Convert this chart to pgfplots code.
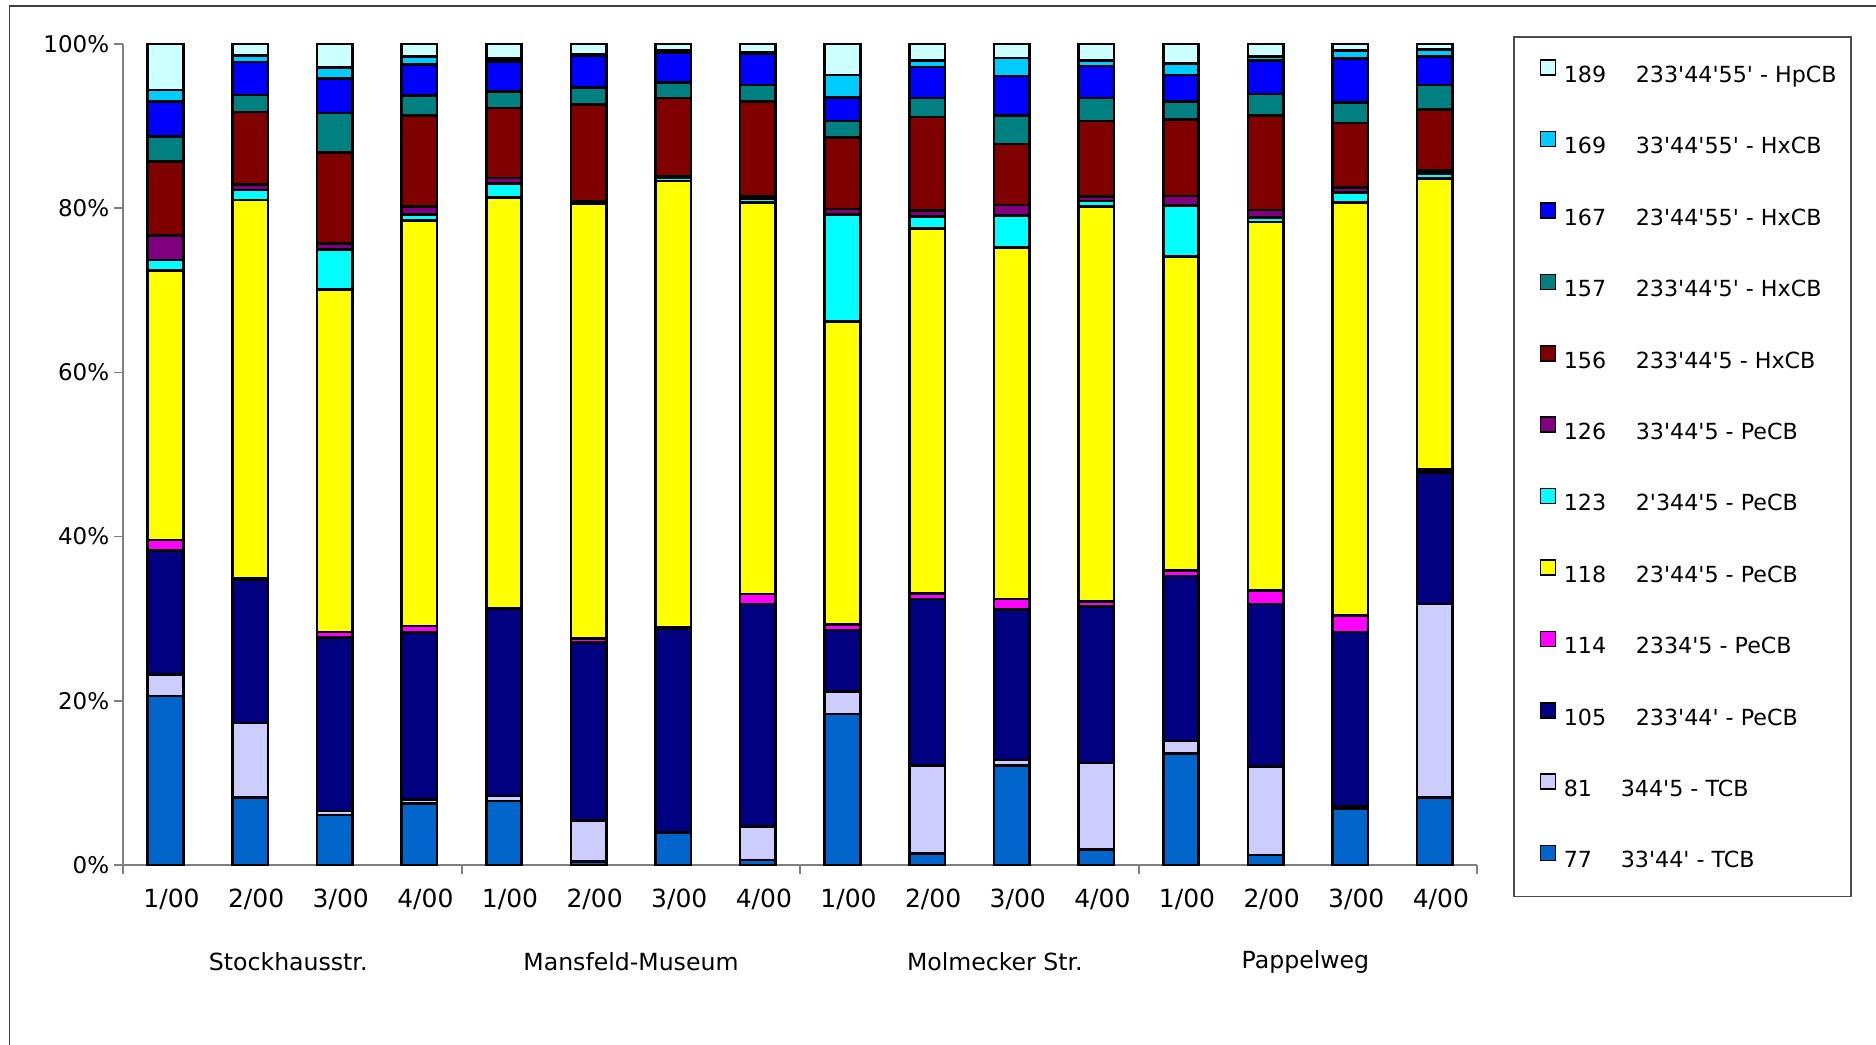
\documentclass[border=0pt]{standalone}
\usepackage{fontspec}
\setmainfont{DejaVu Sans}[Ligatures=TeXOff]
\usepackage{pgfplots}
\usepackage{pgfplotstable}
\pgfplotsset{compat=1.18}

\definecolor{c77}{HTML}{0066CC}
\definecolor{c81}{HTML}{CCCCFF}
\definecolor{c105}{HTML}{000080}
\definecolor{c114}{HTML}{FF00FF}
\definecolor{c118}{HTML}{FFFF00}
\definecolor{c123}{HTML}{00FFFF}
\definecolor{c126}{HTML}{800080}
\definecolor{c156}{HTML}{800000}
\definecolor{c157}{HTML}{008080}
\definecolor{c167}{HTML}{0000FF}
\definecolor{c169}{HTML}{00CCFF}
\definecolor{c189}{HTML}{CCFFFF}

% share of each congener in %, bars 0..15
\pgfplotstableread{
x  s77  s81  s105 s114 s118 s123 s126 s156 s157 s167 s169 s189
0  20.6 2.6  15.1 1.3  32.8 1.3  3.0  9.0  3.0  4.3  1.4  5.6
1  8.2  9.1  17.5 0.1  46.1 1.2  0.7  8.8  2.1  4.0  0.8  1.4
2  6.1  0.5  21.1 0.7  41.7 4.9  0.7  11.1 4.8  4.2  1.3  2.9
3  7.5  0.5  20.3 0.8  49.4 0.7  1.0  11.1 2.4  3.8  1.0  1.5
4  7.8  0.6  22.8 0.1  50.0 1.7  0.7  8.5  2.0  3.7  0.3  1.8
5  0.4  5.0  21.7 0.5  53.0 0.1  0.1  11.8 2.1  3.9  0.2  1.2
6  3.9  0.1  24.8 0.1  54.4 0.4  0.2  9.5  1.9  3.6  0.3  0.8
7  0.6  4.1  27.1 1.2  47.7 0.5  0.2  11.6 2.0  3.8  0.2  1.0
8  18.4 2.7  7.5  0.7  36.9 13.0 0.7  8.7  2.0  2.9  2.7  3.8
9  1.4  10.7 20.3 0.7  44.4 1.5  0.7  11.4 2.3  3.8  0.8  2.0
10 12.1 0.7  18.3 1.3  42.8 3.9  1.3  7.4  3.5  4.8  2.2  1.7
11 1.9  10.5 19.1 0.6  48.1 0.7  0.5  9.2  2.8  3.9  0.7  2.0
12 13.6 1.5  20.1 0.7  38.2 6.2  1.2  9.3  2.2  3.2  1.4  2.4
13 1.2  10.8 19.8 1.6  44.9 0.6  0.9  11.5 2.6  4.1  0.5  1.5
14 6.8  0.3  21.3 2.0  50.3 1.2  0.6  7.9  2.5  5.3  1.0  0.8
15 8.2  23.6 16.0 0.4  35.4 0.6  0.4  7.4  3.0  3.5  0.8  0.7
}\pcbdata

\newcommand{\legl}[2]{\makebox[130.5bp][l]{\makebox[36bp][l]{#1}#2}}
\newcommand{\legs}[2]{\makebox[130.5bp][l]{\makebox[28.5bp][l]{#1}#2}}

\begin{document}
\begin{tikzpicture}
\useasboundingbox (0,0) rectangle (938bp,522.5bp);
\draw[line width=0.8bp, black!75] (4.8bp,0) -- (4.8bp,519.5bp) -- (938bp,519.5bp);
\begin{axis}[
  at={(61.6bp,90bp)}, anchor=south west,
  scale only axis, width=677bp, height=410.5bp,
  ybar stacked, bar width=0.42,
  xmin=-0.5, xmax=15.5, ymin=0, ymax=100,
  axis x line=bottom, axis y line=left,
  axis line style={-, gray, line width=0.8bp},
  tick align=outside, major tick length=4.5bp,
  tick style={gray, line width=0.8bp},
  ytick={0,20,40,60,80,100},
  yticklabels={0\%,20\%,40\%,60\%,80\%,100\%},
  yticklabel style={inner xsep=2.3bp, font=\fontsize{11.5bp}{13bp}\selectfont},
  xtick={-0.5,3.5,7.5,11.5,15.5}, xticklabels={},
  extra x ticks={0,1,...,15},
  extra x tick labels={1/00,2/00,3/00,4/00,1/00,2/00,3/00,4/00,1/00,2/00,3/00,4/00,1/00,2/00,3/00,4/00},
  extra x tick style={major tick length=0pt, tick label style={yshift=-8.4bp, xshift=3bp, font=\fontsize{12.5bp}{14bp}\selectfont}},
  clip=false,
  legend image code/.code={\draw[#1, line width=0.8bp] (0bp,0.6bp) rectangle (7.5bp,8.1bp); \path (11bp,0bp);},
  legend cell align=left,
  reverse legend,
  legend style={at={(1.0264,1.00974)}, anchor=north west, draw=black!70, line width=0.8bp,
    inner xsep=13bp, inner ysep=11.3bp, row sep=21.2bp, column sep=0pt,
    nodes={inner sep=0pt, text height=9bp, text depth=3bp},
    font=\fontsize{11.1bp}{13bp}\selectfont},
]
\addplot[fill=c77, draw=black, line width=1.3bp] table[x=x,y=s77]{\pcbdata};
\addlegendentry{\legs{77}{33'44' - TCB}}
\addplot[fill=c81, draw=black, line width=1.3bp] table[x=x,y=s81]{\pcbdata};
\addlegendentry{\legs{81}{344'5 - TCB}}
\addplot[fill=c105, draw=black, line width=1.3bp] table[x=x,y=s105]{\pcbdata};
\addlegendentry{\legl{105}{233'44' - PeCB}}
\addplot[fill=c114, draw=black, line width=1.3bp] table[x=x,y=s114]{\pcbdata};
\addlegendentry{\legl{114}{2334'5 - PeCB}}
\addplot[fill=c118, draw=black, line width=1.3bp] table[x=x,y=s118]{\pcbdata};
\addlegendentry{\legl{118}{23'44'5 - PeCB}}
\addplot[fill=c123, draw=black, line width=1.3bp] table[x=x,y=s123]{\pcbdata};
\addlegendentry{\legl{123}{2'344'5 - PeCB}}
\addplot[fill=c126, draw=black, line width=1.3bp] table[x=x,y=s126]{\pcbdata};
\addlegendentry{\legl{126}{33'44'5 - PeCB}}
\addplot[fill=c156, draw=black, line width=1.3bp] table[x=x,y=s156]{\pcbdata};
\addlegendentry{\legl{156}{233'44'5 - HxCB}}
\addplot[fill=c157, draw=black, line width=1.3bp] table[x=x,y=s157]{\pcbdata};
\addlegendentry{\legl{157}{233'44'5' - HxCB}}
\addplot[fill=c167, draw=black, line width=1.3bp] table[x=x,y=s167]{\pcbdata};
\addlegendentry{\legl{167}{23'44'55' - HxCB}}
\addplot[fill=c169, draw=black, line width=1.3bp] table[x=x,y=s169]{\pcbdata};
\addlegendentry{\legl{169}{33'44'55' - HxCB}}
\addplot[fill=c189, draw=black, line width=1.3bp] table[x=x,y=s189]{\pcbdata};
\addlegendentry{\legl{189}{233'44'55' - HpCB}}

\node[font=\fontsize{11.8bp}{13bp}\selectfont] at (axis cs:1.45,0) [yshift=-48.5bp] {Stockhausstr.};
\node[font=\fontsize{11.8bp}{13bp}\selectfont] at (axis cs:5.5,0) [yshift=-48.5bp] {Mansfeld-Museum};
\node[font=\fontsize{11.8bp}{13bp}\selectfont] at (axis cs:9.8,0) [yshift=-48.5bp] {Molmecker Str.};
\node[font=\fontsize{11.8bp}{13bp}\selectfont] at (axis cs:13.47,0) [yshift=-48.5bp] {Pappelweg};
\end{axis}
\end{tikzpicture}
\end{document}
